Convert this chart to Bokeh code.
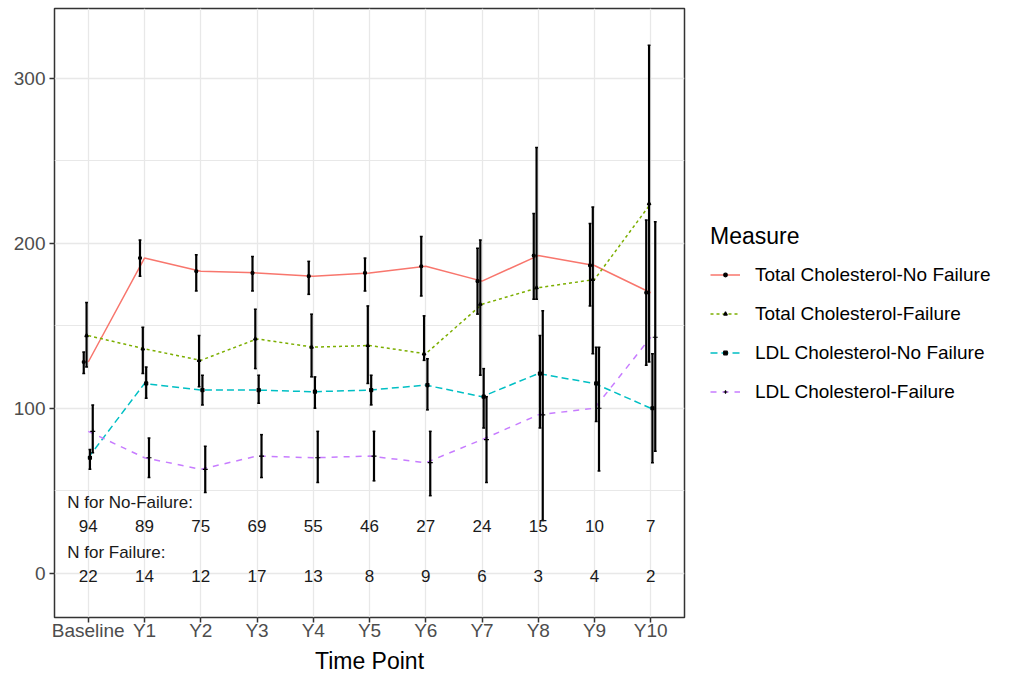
from bokeh.plotting import figure
from bokeh.models import FixedTicker, Legend, LegendItem, Range1d
from bokeh.core.properties import value
from bokeh.embed import file_html
from bokeh.resources import INLINE

categories = ["Baseline", "Y1", "Y2", "Y3", "Y4", "Y5", "Y6", "Y7", "Y8", "Y9", "Y10"]
n_nofail = [94, 89, 75, 69, 55, 46, 27, 24, 15, 10, 7]
n_fail = [22, 14, 12, 17, 13, 8, 9, 6, 3, 4, 2]

tc_nf_mean = [128, 191, 183, 182, 180, 182, 186, 177, 192.5, 186.5, 170]
tc_nf_lo = [121, 180, 171, 171, 169, 171, 168, 157, 166, 162, 126]
tc_nf_hi = [134, 202, 193, 192, 189, 191, 204, 197, 218, 212, 214]

tc_f_mean = [144, 136, 129, 142, 137, 138, 133, 163, 173, 178, 224]
tc_f_lo = [125, 121, 113, 124, 119, 115, 129, 120, 166, 133, 128]
tc_f_hi = [164, 149, 144, 160, 157, 162, 156, 202, 258, 222, 320]

ldl_nf_mean = [70, 115, 111, 111, 110, 111, 114, 107, 121, 115, 100]
ldl_nf_lo = [63, 106, 102, 103, 100, 102, 99, 88, 88, 92, 67]
ldl_nf_hi = [75, 125, 120, 120, 119, 120, 130, 124, 144, 137, 133]

ldl_f_mean = [86, 70, 63, 71, 70, 71, 67, 81, 96, 100, 143]
ldl_f_lo = [73, 58, 49, 58, 55, 56, 47, 55, 32, 62, 74]
ldl_f_hi = [102, 82, 77, 84, 86, 86, 86, 107, 159, 137, 213]

series_names = ["Total Cholesterol-No Failure", "Total Cholesterol-Failure",
                "LDL Cholesterol-No Failure", "LDL Cholesterol-Failure"]
series_colors = ["#F8766D", "#7CAE00", "#00BFC4", "#C77CFF"]

FONT = "Liberation Sans"
xs = list(range(len(categories)))

p = figure(frame_width=630, frame_height=609, output_backend="svg", toolbar_location=None,
           x_range=Range1d(-0.6, 10.6), y_range=Range1d(-26.8, 342.2),
           min_border_left=54, min_border_top=8, min_border_bottom=58, min_border_right=326,
           background_fill_color="white", border_fill_color="white")

p.outline_line_color = "#333333"
p.outline_line_width = 1.5

# axes
p.xaxis.ticker = FixedTicker(ticks=xs)
p.xaxis.major_label_overrides = {i: c for i, c in enumerate(categories)}
p.yaxis.ticker = FixedTicker(ticks=[0, 100, 200, 300], minor_ticks=[50, 150, 250])
for ax in (p.xaxis[0], p.yaxis[0]):
    ax.axis_line_color = None
    ax.major_tick_line_color = "#333333"
    ax.major_tick_line_width = 1.5
    ax.major_tick_in = 0
    ax.major_tick_out = 5
    ax.minor_tick_line_color = None
    ax.major_label_text_font = FONT
    ax.major_label_text_font_size = "19px"
    ax.major_label_text_color = "#4d4d4d"
p.xaxis.major_label_standoff = -3
p.yaxis.major_label_standoff = 4
p.xaxis.axis_label = "Time Point"
p.xaxis.axis_label_text_font = FONT
p.xaxis.axis_label_text_font_size = "23px"
p.xaxis.axis_label_text_font_style = "normal"
p.xaxis.axis_label_text_color = "#000000"
p.xaxis.axis_label_standoff = 4

p.xgrid.grid_line_color = "#e8e8e8"
p.xgrid.grid_line_width = 1.3
p.ygrid.grid_line_color = "#e8e8e8"
p.ygrid.grid_line_width = 1.3
p.ygrid.minor_grid_line_color = "#e8e8e8"
p.ygrid.minor_grid_line_width = 1.0

means = [tc_nf_mean, tc_f_mean, ldl_nf_mean, ldl_f_mean]
los = [tc_nf_lo, tc_f_lo, ldl_nf_lo, ldl_f_lo]
his = [tc_nf_hi, tc_f_hi, ldl_nf_hi, ldl_f_hi]
dashes = ["solid", "3 3", "7 4", "6 6"]
markers = ["circle", "triangle", "square", "cross"]
msizes = [3, 3.5, 3, 5]
offsets = [-0.08, -0.03, 0.03, 0.08]

line_rs = []
for m, col, d in zip(means, series_colors, dashes):
    line_rs.append(p.line(xs, m, line_color=col, line_width=1.5, line_dash=d))

for lo, hi, off in zip(los, his, offsets):
    xd = [x + off for x in xs]
    p.segment(x0=xd, y0=lo, x1=xd, y1=hi, line_color="black", line_width=2.2)
    p.segment(x0=[x - 0.025 for x in xd], y0=lo, x1=[x + 0.025 for x in xd], y1=lo,
              line_color="black", line_width=1.5)
    p.segment(x0=[x - 0.025 for x in xd], y0=hi, x1=[x + 0.025 for x in xd], y1=hi,
              line_color="black", line_width=1.5)

pt_rs = []
for m, mk, ms, off in zip(means, markers, msizes, offsets):
    xd = [x + off for x in xs]
    pt_rs.append(p.scatter(xd, m, marker=mk, size=ms, fill_color="black",
                           line_color="black", line_width=1.2))

# sample size annotations
p.text(x=[-0.374], y=[43.0], text=["N for No-Failure:"], text_font=value(FONT),
       text_font_size="17px", text_color="#1a1a1a", text_align="left", text_baseline="middle")
p.text(x=xs, y=[28.9] * len(xs), text=[str(n) for n in n_nofail], text_font=value(FONT),
       text_font_size="17px", text_color="#1a1a1a", text_align="center", text_baseline="middle")
p.text(x=[-0.374], y=[12.7], text=["N for Failure:"], text_font=value(FONT),
       text_font_size="17px", text_color="#1a1a1a", text_align="left", text_baseline="middle")
p.text(x=xs, y=[-1.4] * len(xs), text=[str(n) for n in n_fail], text_font=value(FONT),
       text_font_size="17px", text_color="#1a1a1a", text_align="center", text_baseline="middle")

items = [LegendItem(label=name, renderers=[lr, pr])
         for name, lr, pr in zip(series_names, line_rs, pt_rs)]
legend = Legend(items=items, title="Measure", location="center_left",
                title_text_font=FONT, title_text_font_size="23px", title_text_font_style="normal",
                title_text_color="#000000", title_standoff=14,
                label_text_font=FONT, label_text_font_size="19px", label_text_color="#000000",
                glyph_width=30, glyph_height=9, label_height=20, label_standoff=15,
                spacing=17, padding=8, margin=26,
                border_line_color=None, background_fill_alpha=0)
p.add_layout(legend, "right")

open("out.html", "w").write(file_html(p, INLINE))
